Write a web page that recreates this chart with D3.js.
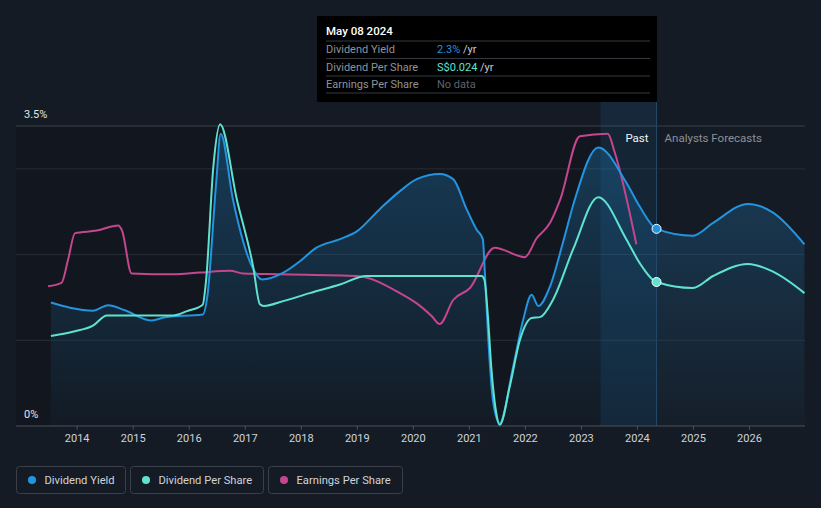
<!DOCTYPE html>
<html>
<head>
<meta charset="utf-8">
<script src="https://cdn.jsdelivr.net/npm/d3@7"></script>
<style>
  html, body { margin: 0; padding: 0; background: #151b24; }
  svg { display: block; font-family: Roboto, "Noto Sans", sans-serif; }
</style>
</head>
<body>
<svg id="chart" width="821" height="508"></svg>
<script>
// ---------- data (decimal years, values in % of chart scale) ----------
const yearTicks = [2014, 2015, 2016, 2017, 2018, 2019, 2020, 2021, 2022, 2023, 2024, 2025, 2026];
const yTickLabels = [{v: 0, label: "0%"}, {v: 3.5, label: "3.5%"}];
const gridValues = [1, 2, 3];

const dividendYield = [
  [2013.54, 1.44], [2013.88, 1.38], [2014.29, 1.345], [2014.56, 1.41], [2014.86, 1.35],
  [2015.34, 1.23], [2015.58, 1.27], [2016.25, 1.30], [2016.33, 1.5], [2016.49, 2.84],
  [2016.57, 3.41], [2016.79, 2.64], [2017.13, 1.86], [2017.31, 1.71], [2017.69, 1.79],
  [2017.98, 1.92], [2018.28, 2.08], [2018.70, 2.18], [2019.00, 2.27], [2019.41, 2.53],
  [2019.77, 2.74], [2020.07, 2.88], [2020.48, 2.94], [2020.72, 2.88], [2020.96, 2.53],
  [2021.14, 2.29], [2021.25, 2.18], [2021.28, 1.86], [2021.34, 1.09], [2021.43, 0.30],
  [2021.55, 0.03], [2021.79, 0.69], [2021.97, 1.24], [2022.12, 1.53], [2022.24, 1.40],
  [2022.45, 1.63], [2022.68, 2.14], [2022.89, 2.64], [2023.31, 3.25], [2023.81, 2.84],
  [2024.05, 2.56], [2024.35, 2.30], [2025.00, 2.22], [2025.36, 2.37], [2025.98, 2.59],
  [2026.43, 2.49], [2026.99, 2.12]
];

const dividendPerShare = [
  [2013.54, 1.05], [2013.93, 1.10], [2014.29, 1.17], [2014.54, 1.29], [2015.72, 1.29],
  [2015.97, 1.34], [2016.25, 1.415], [2016.31, 1.7], [2016.44, 3.03], [2016.56, 3.52],
  [2016.86, 2.64], [2017.15, 1.86], [2017.27, 1.42], [2017.34, 1.40], [2017.70, 1.46],
  [2018.16, 1.55], [2018.70, 1.65], [2019.17, 1.75], [2021.23, 1.75], [2021.28, 1.70],
  [2021.34, 1.28], [2021.40, 0.69], [2021.49, 0.15], [2021.55, 0.01], [2021.73, 0.46],
  [2021.91, 1.00], [2022.12, 1.26], [2022.27, 1.27], [2022.50, 1.47], [2022.86, 2.06],
  [2023.31, 2.67], [2023.81, 2.18], [2024.05, 1.90], [2024.35, 1.68], [2025.00, 1.61],
  [2025.36, 1.75], [2025.98, 1.89], [2026.43, 1.80], [2026.99, 1.55]
];

const earningsPerShare = [
  [2013.49, 1.63], [2013.73, 1.67], [2013.85, 1.95], [2013.97, 2.25], [2014.36, 2.28],
  [2014.74, 2.34], [2014.81, 2.28], [2014.98, 1.78], [2015.72, 1.77], [2016.20, 1.79],
  [2016.74, 1.81], [2016.97, 1.78], [2017.63, 1.77], [2019.00, 1.75], [2019.77, 1.55],
  [2020.07, 1.43], [2020.34, 1.28], [2020.48, 1.19], [2020.72, 1.47], [2021.02, 1.61],
  [2021.46, 2.08], [2022.00, 1.97], [2022.21, 2.19], [2022.45, 2.37], [2022.63, 2.64],
  [2022.98, 3.38], [2023.48, 3.41], [2023.60, 3.20], [2023.99, 2.12]
];

const tooltipDate = "May 08 2024";
const hoverYear = 2024.35;
const bandStartYear = 2023.35;
const tooltipRows = [
  {label: "Dividend Yield", value: "2.3%", unit: " /yr", color: "#2394df"},
  {label: "Dividend Per Share", value: "S$0.024", unit: " /yr", color: "#5fe3d0"},
  {label: "Earnings Per Share", value: "No data", unit: "", color: "#5d636b"}
];
const legendItems = [
  {label: "Dividend Yield", color: "#2394df"},
  {label: "Dividend Per Share", color: "#5fe3d0"},
  {label: "Earnings Per Share", color: "#c5468e"}
];

// ---------- layout ----------
const svg = d3.select("#chart");
const plotLeft = 16, plotRight = 805, plotTop = 126, plotBottom = 426;
const x = d3.scaleLinear().domain([2012.917, 2027]).range([plotLeft, plotRight]);
const y = d3.scaleLinear().domain([0, 3.5]).range([plotBottom, plotTop]);

const defs = svg.append("defs");
const grad = defs.append("linearGradient").attr("id", "areaGrad")
  .attr("gradientUnits", "userSpaceOnUse")
  .attr("x1", 0).attr("y1", plotTop).attr("x2", 0).attr("y2", plotBottom);
grad.append("stop").attr("offset", "0%").attr("stop-color", "#2394df").attr("stop-opacity", 0.30);
grad.append("stop").attr("offset", "100%").attr("stop-color", "#2394df").attr("stop-opacity", 0.03);

// past region slightly darker
svg.append("rect").attr("x", plotLeft).attr("y", plotTop)
  .attr("width", x(hoverYear) - plotLeft).attr("height", plotBottom - plotTop)
  .attr("fill", "#000").attr("opacity", 0.12);

// gridlines
svg.append("g").selectAll("line").data(gridValues).join("line")
  .attr("x1", plotLeft).attr("x2", plotRight)
  .attr("y1", d => y(d)).attr("y2", d => y(d))
  .attr("stroke", "#262d37").attr("stroke-width", 1);
svg.append("line").attr("x1", plotLeft).attr("x2", plotRight)
  .attr("y1", y(3.5)).attr("y2", y(3.5))
  .attr("stroke", "#3b414a").attr("stroke-width", 1);

// area under dividend yield
const curve = d3.curveMonotoneX;
const area = d3.area().x(d => x(d[0])).y0(y(0)).y1(d => y(d[1])).curve(curve);
svg.append("path").datum(dividendYield).attr("d", area).attr("fill", "url(#areaGrad)");

// trailing-year highlight band
svg.append("rect").attr("x", x(bandStartYear)).attr("y", 102)
  .attr("width", x(hoverYear) - x(bandStartYear)).attr("height", plotBottom - 102)
  .attr("fill", "#1f6fae").attr("opacity", 0.16);
// hover line
svg.append("line").attr("x1", x(hoverYear)).attr("x2", x(hoverYear))
  .attr("y1", 100).attr("y2", plotBottom)
  .attr("stroke", "#24496a").attr("stroke-width", 1);

// lines
const line = d3.line().x(d => x(d[0])).y(d => y(d[1])).curve(curve);
svg.append("path").datum(earningsPerShare).attr("d", line)
  .attr("fill", "none").attr("stroke", "#c5468e").attr("stroke-width", 2);
svg.append("path").datum(dividendYield).attr("d", line)
  .attr("fill", "none").attr("stroke", "#2394df").attr("stroke-width", 2);
svg.append("path").datum(dividendPerShare).attr("d", line)
  .attr("fill", "none").attr("stroke", "#5fe3d0").attr("stroke-width", 2);

// hover dots
const findVal = (arr) => arr.find(d => d[0] === hoverYear)[1];
svg.append("circle").attr("cx", x(hoverYear)).attr("cy", y(findVal(dividendYield))).attr("r", 4.5)
  .attr("fill", "#2394df").attr("stroke", "#fff").attr("stroke-width", 1);
svg.append("circle").attr("cx", x(hoverYear)).attr("cy", y(findVal(dividendPerShare))).attr("r", 4.5)
  .attr("fill", "#5fe3d0").attr("stroke", "#fff").attr("stroke-width", 1);

// x axis
const xAxis = svg.append("g").attr("transform", `translate(0,${plotBottom})`)
  .call(d3.axisBottom(x).tickValues(yearTicks).tickFormat(d3.format("d")).tickSize(4).tickPadding(4));
xAxis.select(".domain").remove();
xAxis.append("line").attr("x1", plotLeft).attr("x2", plotRight).attr("stroke", "#4a5058");
xAxis.selectAll(".tick line").attr("stroke", "#4a5058");
xAxis.selectAll(".tick text").attr("fill", "#d0d3d8").attr("font-size", 11)
  .attr("font-family", "Roboto, sans-serif");

// y labels
svg.append("g").selectAll("text").data(yTickLabels).join("text")
  .attr("x", 24).attr("y", d => y(d.v) - 8)
  .attr("fill", "#e2e4e8").attr("font-size", 11)
  .text(d => d.label);

// Past / Analysts Forecasts
svg.append("text").attr("x", x(hoverYear) - 8).attr("y", 142)
  .attr("text-anchor", "end").attr("fill", "#f2f3f5").attr("font-size", 11.5).text("Past");
svg.append("text").attr("x", x(hoverYear) + 8).attr("y", 142)
  .attr("fill", "#8b9098").attr("font-size", 11.5).text("Analysts Forecasts");

// tooltip
const tt = svg.append("g");
tt.append("rect").attr("x", 317).attr("y", 16).attr("width", 340).attr("height", 86).attr("fill", "#000");
tt.append("text").attr("x", 326).attr("y", 35).attr("fill", "#fff")
  .attr("font-size", 11.5).attr("font-weight", 500).text(tooltipDate);
tooltipRows.forEach((r, i) => {
  const cy = 49 + i * 17.5;
  tt.append("line").attr("x1", 326).attr("x2", 650).attr("y1", cy - 8).attr("y2", cy - 8)
    .attr("stroke", "#333840");
  tt.append("text").attr("x", 326).attr("y", cy + 4).attr("fill", "#8e939b").attr("font-size", 11).text(r.label);
  const t2 = tt.append("text").attr("x", 437).attr("y", cy + 4).attr("font-size", 11);
  t2.append("tspan").attr("fill", r.color).text(r.value);
  if (r.unit) t2.append("tspan").attr("fill", "#c9ccd1").text(r.unit);
});
tt.append("line").attr("x1", 326).attr("x2", 650).attr("y1", 93).attr("y2", 93).attr("stroke", "#333840");

// legend
const legendBoxes = [{x: 16.5, w: 109}, {x: 130.5, w: 133}, {x: 268.5, w: 134}];
const lg = svg.append("g");
legendItems.forEach((item, i) => {
  const b = legendBoxes[i];
  lg.append("rect").attr("x", b.x).attr("y", 466.5).attr("width", b.w).attr("height", 27)
    .attr("rx", 3).attr("fill", "none").attr("stroke", "#3a4049");
  lg.append("circle").attr("cx", b.x + 15.5).attr("cy", 480).attr("r", 4).attr("fill", item.color);
  lg.append("text").attr("x", b.x + 28).attr("y", 484).attr("fill", "#d0d3d8")
    .attr("font-size", 11.2).text(item.label);
});
</script>
</body>
</html>
